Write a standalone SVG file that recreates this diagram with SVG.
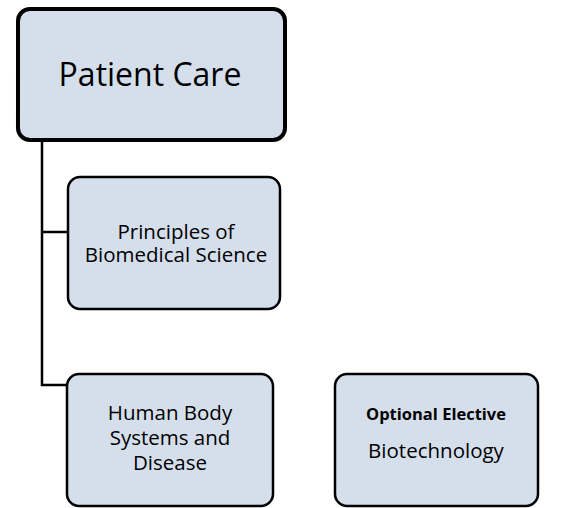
<svg xmlns="http://www.w3.org/2000/svg" width="566" height="508" viewBox="0 0 566 508">
<style>
.box{fill:#D5DFEC;stroke:#000;stroke-width:2.5}
.main{fill:#D5DFEC;stroke:#000;stroke-width:4}
.t{font-family:"Open Sans","Liberation Sans",sans-serif;fill:#000;text-anchor:middle;font-size:20.5px}
.conn{fill:none;stroke:#000;stroke-width:2.5}
</style>
<rect width="566" height="508" fill="#fff"/>
<g id="connectors">
<path class="conn" d="M42,140 V385 H68"/>
<path class="conn" d="M42,232 H68"/>
</g>
<g id="patient-care">
<rect class="main" x="18" y="9" width="267" height="131" rx="12"/>
<text class="t" x="150" y="86" style="font-size:32px">Patient Care</text>
</g>
<g id="principles">
<rect class="box" x="68" y="177" width="212" height="132" rx="12"/>
<text class="t" x="176" y="239">Principles of</text>
<text class="t" x="176" y="262">Biomedical Science</text>
</g>
<g id="human-body">
<rect class="box" x="67" y="374" width="206" height="132" rx="12"/>
<text class="t" x="170" y="420">Human Body</text>
<text class="t" x="170" y="445">Systems and</text>
<text class="t" x="170" y="470">Disease</text>
</g>
<g id="elective">
<rect class="box" x="335" y="374" width="203" height="132" rx="12"/>
<text class="t" x="436" y="420" style="font-size:16.5px;font-weight:bold">Optional Elective</text>
<text class="t" x="436" y="458">Biotechnology</text>
</g>
</svg>
